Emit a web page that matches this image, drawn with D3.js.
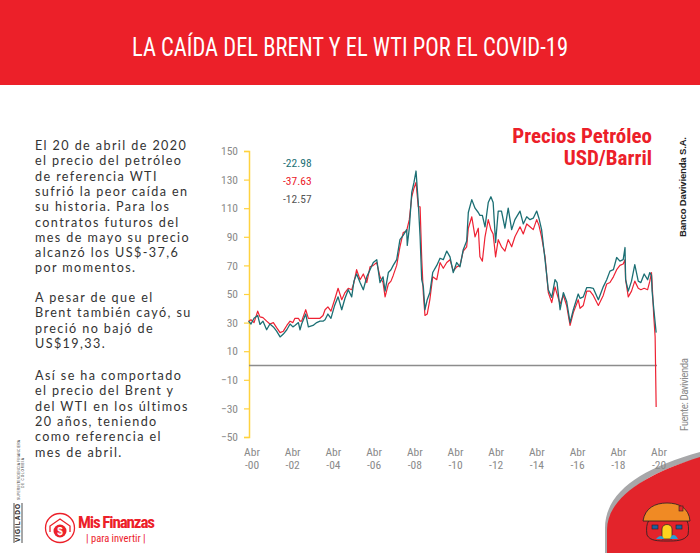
<!DOCTYPE html>
<html><head><meta charset="utf-8">
<script src="https://cdn.jsdelivr.net/npm/d3@7"></script>
<style>
html,body{margin:0;padding:0;background:#fff;}
svg{display:block;}
</style></head>
<body>
<svg id="c" width="700" height="553"></svg>
<script>
// ---------- DATA ----------
const title = "LA CAÍDA DEL BRENT Y EL WTI POR EL COVID-19";
const chartTitle = ["Precios Petróleo", "USD/Barril"];
const legendValues = ["-22.98", "-37.63", "-12.57"];
const yTicks = [150, 130, 110, 90, 70, 50, 30, 10, -10, -30, -50];
const xTickYears = [2000, 2002, 2004, 2006, 2008, 2010, 2012, 2014, 2016, 2018, 2020];
const xTickLabels = ["-00", "-02", "-04", "-06", "-08", "-10", "-12", "-14", "-16", "-18", "-20"];
const dates = [2000.08,2000.20,2000.35,2000.53,2000.64,2000.79,2000.97,2001.13,2001.30,2001.46,2001.63,2001.79,2001.96,2002.12,2002.26,2002.36,2002.53,2002.61,2002.69,2002.89,2003.02,2003.25,2003.43,2003.59,2003.74,2003.84,2003.98,2004.13,2004.31,2004.48,2004.66,2004.82,2004.98,2005.15,2005.26,2005.39,2005.56,2005.72,2005.89,2006.05,2006.21,2006.38,2006.54,2006.69,2006.79,2006.95,2007.08,2007.19,2007.36,2007.52,2007.68,2007.85,2007.88,2007.98,2008.10,2008.21,2008.31,2008.42,2008.51,2008.59,2008.67,2008.75,2008.86,2008.99,2009.13,2009.33,2009.49,2009.65,2009.82,2009.98,2010.14,2010.31,2010.47,2010.63,2010.80,2010.88,2011.05,2011.21,2011.37,2011.45,2011.57,2011.70,2011.86,2011.99,2012.10,2012.22,2012.35,2012.51,2012.68,2012.84,2013.01,2013.17,2013.42,2013.58,2013.75,2013.91,2014.07,2014.24,2014.35,2014.48,2014.65,2014.81,2014.98,2015.14,2015.24,2015.39,2015.55,2015.71,2015.88,2016.04,2016.28,2016.37,2016.53,2016.70,2016.86,2017.02,2017.27,2017.51,2017.68,2017.84,2018.01,2018.17,2018.33,2018.49,2018.58,2018.61,2018.74,2018.90,2019.06,2019.23,2019.36,2019.52,2019.69,2019.80,2019.88,2019.91,2019.99,2020.06,2020.11];
const brent = [31,29,33,35,28.7,31,25,29,27,24,20,22,25,29,27,28,30,25,29,36,27,28,30,31,31,32,36,33,42,48,39,47,53,48,59,64,58,53,62,67,72,74,58,62,52,65,67,70,74,88,91,95,84,96,121,128,136,114,90,60,55,39,46,51,65,70,75,74,80,76,65,72,69,81,87,107,116,110,107,105,105,97,114,118,114,86,108,108,96,110,95,102,108,99,104,102,103,108,103,95,74,53,47.6,60,58,39,51,45,30,39,50,47,48,54.5,54.5,54,46,55,60,66,67,75.5,73,74,82.5,60,52,59,70.6,59,58,64,60,65,63,52,40,30,23];
const wti = [31,32,30,38,34,33.5,31,29,30,26.5,23,24,28,31,30,33,33,31,31,39,33,33,33,33,35,39,41,38,46,54,46,51,54,53,58,67,60,64,58,69,70,72,62,58,48,57,59,63,70,83,93,94,96,102,118,124,128,111,111,75,50,35,36,46,62,60,72,68,72,74,66,69,70,80,83,96,104,90,96,76,73,90,102,95,92,76,88,83,80,88,83,90,97,92,99,97,95,102,98,90,76,51,44,55,50,43,49,42,28,37,46,40,42,52,52,49,42,49,57,58,62,67,70,71,74,60,48,52,59,54,53,54,53,59,65,58,35,20,-29];

// ---------- LAYOUT ----------
const svg = d3.select("#c");
const RED = "#EC2029", TEAL = "#1C6F74", GRAY = "#8a8a8a";
const condensed = "'Liberation Sans Narrow','Roboto Condensed','Arial Narrow',sans-serif";

// banner
svg.append("rect").attr("x",0).attr("y",0).attr("width",700).attr("height",85).attr("fill",RED);
svg.append("text").attr("x",350).attr("y",56).attr("text-anchor","middle")
  .attr("fill","#fff").attr("font-family",condensed).attr("font-size",25)
  .attr("textLength",436).attr("lengthAdjust","spacingAndGlyphs").text(title);

// bottom-right swoosh (drawn first so axis labels sit on top)
svg.append("path").attr("d","M605 553 L605 528 C605 492 642 468 700 452 L700 458 C647 472 613 496 609 528 L609 553 Z").attr("fill","#a7a7a9");
svg.append("path").attr("d","M607 553 L607 530 C607 498 645 474 700 457 L700 553 Z").attr("fill","#E3242B");

// left paragraph text
const paragraphs = [
 ["El 20 de abril de 2020","el precio del petróleo","de referencia WTI","sufrió la peor caída en","su historia. Para los","contratos futuros del","mes de mayo su precio","alcanzó los US$-37,6","por momentos."],
 ["A pesar de que el","Brent también cayó, su","preció no bajó de","US$19,33."],
 ["Así se ha comportado","el precio del Brent y","del WTI en los últimos","20 años, teniendo","como referencia el","mes de abril."]
];
const paraStarts = [150, 302, 380];
paragraphs.forEach((p,i)=>{
  p.forEach((line,j)=>{
    svg.append("text").attr("x",35).attr("y",paraStarts[i]+j*15.3)
      .attr("fill","#333").attr("font-family","Lato,'Open Sans',sans-serif")
      .attr("font-size",12.6).attr("letter-spacing",1.4).text(line);
  });
});

// scales
const x = d3.scaleLinear().domain([2000.25, 2020.25]).range([252, 659]);
const y = d3.scaleLinear().domain([-50, 150]).range([437, 151]);

// y axis (yellow)
const yAxis = d3.axisLeft(y).tickValues(yTicks).tickSize(5).tickFormat(d3.format("d"));
const gy = svg.append("g").attr("transform","translate(249,0)").call(yAxis);
gy.select(".domain").attr("stroke","#FFD23F").attr("stroke-width",1.5);
gy.selectAll(".tick line").attr("stroke","#FFD23F").attr("stroke-width",1.2);
gy.selectAll(".tick text").attr("fill",GRAY).attr("font-family",condensed).attr("font-size",11.5).attr("x",-11);

// x axis labels
const gx = svg.append("g");
xTickYears.forEach((yr,i)=>{
  const t = gx.append("text").attr("x",x(yr+0.25)).attr("text-anchor","middle")
    .attr("fill",GRAY).attr("font-family",condensed).attr("font-size",11.5);
  t.append("tspan").attr("x",x(yr+0.25)).attr("y",456).text("Abr");
  t.append("tspan").attr("x",x(yr+0.25)).attr("y",469).text(xTickLabels[i]);
});

// zero line
svg.append("line").attr("x1",249).attr("x2",x(2020.15)).attr("y1",y(0)).attr("y2",y(0))
  .attr("stroke","#8c8c8c").attr("stroke-width",1.4);

// lines
const line = v => d3.line().x((d,i)=>x(dates[i])).y(d=>y(d))(v);
svg.append("path").attr("d",line(wti)).attr("fill","none").attr("stroke","#EE2233").attr("stroke-width",1.2).attr("stroke-linejoin","round");
svg.append("path").attr("d",line(brent)).attr("fill","none").attr("stroke",TEAL).attr("stroke-width",1.3).attr("stroke-linejoin","round");

// legend values
const legColors = [TEAL, RED, "#555"];
legendValues.forEach((v,i)=>{
  svg.append("text").attr("x",283).attr("y",167+i*18).attr("fill",legColors[i])
    .attr("font-family",condensed).attr("font-size",11.5).text(v);
});

// chart title
chartTitle.forEach((t,i)=>{
  svg.append("text").attr("x",652).attr("y",143+i*22).attr("text-anchor","end")
    .attr("fill",RED).attr("font-family",condensed).attr("font-weight","bold")
    .attr("font-size",21).text(t);
});

// rotated side texts
svg.append("text").attr("transform","translate(686,237) rotate(-90)")
  .attr("font-family","Arial,'Liberation Sans',sans-serif").attr("font-weight","bold")
  .attr("font-size",9.5).attr("fill","#222").attr("textLength",100).text("Banco Davivienda S.A.");
svg.append("text").attr("transform","translate(688,431) rotate(-90)")
  .attr("font-family",condensed).attr("font-size",11).attr("fill",GRAY)
  .attr("textLength",73).text("Fuente: Davivienda");

// VIGILADO mark
svg.append("text").attr("transform","translate(20,542) rotate(-90)")
  .attr("font-family","Arial,sans-serif").attr("font-weight","bold").attr("font-size",6.5)
  .attr("fill","#222").attr("textLength",38).text("VIGILADO");
svg.append("line").attr("x1",14).attr("x2",14).attr("y1",503).attr("y2",543).attr("stroke","#222").attr("stroke-width",0.8);
svg.append("line").attr("x1",22).attr("x2",22).attr("y1",503).attr("y2",543).attr("stroke","#222").attr("stroke-width",0.8);
svg.append("text").attr("transform","translate(20,500) rotate(-90)")
  .attr("font-family","Arial,sans-serif").attr("font-size",3.3).attr("fill","#333")
  .attr("textLength",60).text("SUPERINTENDENCIA FINANCIERA");
svg.append("text").attr("transform","translate(24,488) rotate(-90)")
  .attr("font-family","Arial,sans-serif").attr("font-size",3.3).attr("fill","#333")
  .attr("textLength",30).text("DE COLOMBIA");

// Mis Finanzas logo
const lg = svg.append("g");
lg.append("circle").attr("cx",60).attr("cy",528).attr("r",14.5).attr("fill","none").attr("stroke",RED).attr("stroke-width",1.3);
lg.append("path").attr("d","M50 532 L50 526 L60 519 L70 526 L70 532").attr("fill","none").attr("stroke",RED).attr("stroke-width",1.3);
lg.append("circle").attr("cx",60).attr("cy",531).attr("r",6.5).attr("fill",RED);
lg.append("text").attr("x",60).attr("y",535).attr("text-anchor","middle").attr("fill","#fff")
  .attr("font-family","Arial,sans-serif").attr("font-weight","bold").attr("font-size",10).text("$");
lg.append("text").attr("x",78).attr("y",528).attr("fill",RED).attr("font-family",condensed)
  .attr("font-weight","bold").attr("font-size",17).attr("textLength",77).text("Mis Finanzas");
lg.append("text").attr("x",86).attr("y",542).attr("fill",RED).attr("font-family",condensed)
  .attr("font-size",10.5).text("|  para invertir  |");

// house icon
const h = svg.append("g");
h.append("path").attr("d","M647 535 C645 522 650 517 656 516 L680 516 C686 517 690 522 688 535 C684 541 676 541 667 541 C658 541 650 541 647 535 Z")
  .attr("fill","#E3242B").attr("stroke","#222").attr("stroke-width",0.8);
h.append("path").attr("d","M643 521 C645 508 655 503 667 503 C679 503 689 508 690 521 Z")
  .attr("fill","#F08A24").attr("stroke","#222").attr("stroke-width",0.8);
h.append("rect").attr("x",679).attr("y",506).attr("width",4).attr("height",5).attr("fill","#E3242B").attr("stroke","#222").attr("stroke-width",0.6);
h.append("path").attr("d","M662 539 L662 529 C662 523 672 523 672 529 L672 539 Z").attr("fill","#FFD21F").attr("stroke","#222").attr("stroke-width",0.7);
h.append("rect").attr("x",652).attr("y",525).attr("width",6).attr("height",4).attr("fill","#1f5f9e").attr("stroke","#222").attr("stroke-width",0.6);
h.append("rect").attr("x",676).attr("y",525).attr("width",6).attr("height",4).attr("fill","#1f5f9e").attr("stroke","#222").attr("stroke-width",0.6);
h.append("path").attr("d","M656 539 C660 534 663 536 664 539 Z M670 539 C671 536 674 532 678 539 Z").attr("fill","#2a9fd6");
</script>
</body></html>
